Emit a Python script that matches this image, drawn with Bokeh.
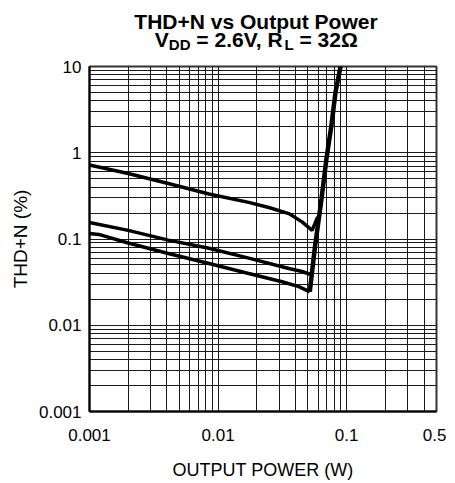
from bokeh.plotting import figure
from bokeh.layouts import column
from bokeh.models import FixedTicker, Range1d
from bokeh.core.properties import value
from bokeh.embed import file_html
from bokeh.resources import INLINE

# ---- data ----
top_x = [0.001, 0.002, 0.0041, 0.0085, 0.0173, 0.0248, 0.0355, 0.045, 0.0539, 0.0595]
top_y = [0.72, 0.575, 0.44, 0.333, 0.266, 0.232, 0.197, 0.158, 0.126, 0.18]

mid_x = [0.001, 0.002, 0.0041, 0.0085, 0.0173, 0.0355, 0.045, 0.0532]
mid_y = [0.155, 0.126, 0.097, 0.078, 0.06, 0.0455, 0.042, 0.0385]

bot_x = [0.001, 0.00118, 0.002, 0.0041, 0.0085, 0.0173, 0.0315, 0.0425, 0.0517]
bot_y = [0.116, 0.113, 0.09, 0.068, 0.052, 0.0398, 0.0319, 0.028, 0.0244]

rise_x = [0.0517, 0.0565, 0.0638, 0.0697, 0.0762, 0.082, 0.0897]
rise_y = [0.0244, 0.0776, 0.295, 0.857, 2.09, 5.08, 10.0]

x_major = [0.001, 0.01, 0.1, 0.5]
x_major_labels = ["0.001", "0.01", "0.1", "0.5"]
x_minor = [k * 10.0 ** e for e in (-3, -2) for k in range(2, 10)] + [0.2, 0.3, 0.4]

y_major = [0.001, 0.01, 0.1, 1, 10]
y_major_labels = ["0.001", "0.01", "0.1", "1", "10"]
y_minor = [k * 10.0 ** e for e in (-3, -2, -1, 0) for k in range(2, 10)]

title_line1 = "THD+N vs Output Power"
# (text, is_subscript, leading-space em, advance em) for Liberation Sans Bold
title_line2 = [("V", False, 0.0, 0.667), ("DD", True, 0.0, 1.444),
               ("= 2.6V, R", False, 0.278, 4.197), ("L", True, 0.0, 0.611),
               ("= 32\u03a9", False, 0.278, 2.744)]

FONT = "Liberation Sans"
FW, FH = 347, 345
BL, BR, BT, BB = 89, 10, 10, 67
TF = 56   # title strip height

# ---- title strip (frame aligned with the chart frame) ----
t = figure(title=None, frame_width=FW, frame_height=TF,
           min_border_left=BL, min_border_right=BR,
           min_border_top=0, min_border_bottom=0,
           x_range=Range1d(0, FW), y_range=Range1d(0, TF),
           x_axis_location=None, y_axis_location=None,
           output_backend="svg", toolbar_location=None)
t.grid.visible = False
t.outline_line_color = None
t.background_fill_color = "white"
t.border_fill_color = "white"

S, s = 21, 15
cx = 166.5
t.text(x=[cx], y=[TF - 20.5], text=[title_line1], text_align="center",
       text_baseline="alphabetic", text_font=value(FONT),
       text_font_size=value(f"{S}px"), text_font_style="bold", text_color="black")
total = sum((s if sub else S) * (lead + w) for _, sub, lead, w in title_line2)
xx = cx - total / 2
for txt, sub, lead, w in title_line2:
    sz = s if sub else S
    xx += sz * lead
    t.text(x=[xx], y=[TF - (43.5 if sub else 38.5)], text=[txt], text_align="left",
           text_baseline="alphabetic", text_font=value(FONT),
           text_font_size=value(f"{sz}px"), text_font_style="bold",
           text_color="black")
    xx += sz * w

# ---- main chart ----
p = figure(x_axis_type="log", y_axis_type="log",
           x_range=(0.001, 0.5), y_range=(0.001, 10),
           frame_width=FW, frame_height=FH,
           min_border_left=BL, min_border_right=BR,
           min_border_top=BT, min_border_bottom=BB,
           output_backend="svg", toolbar_location=None)

p.background_fill_color = "white"
p.border_fill_color = "white"
p.outline_line_color = "#333333"
p.outline_line_width = 2

for ax, maj, lab, mnr in ((p.xaxis[0], x_major, x_major_labels, x_minor),
                          (p.yaxis[0], y_major, y_major_labels, y_minor)):
    ax.ticker = FixedTicker(ticks=maj, minor_ticks=mnr)
    ax.major_label_overrides = {v: l for v, l in zip(maj, lab)}
    ax.major_tick_out = 0
    ax.major_tick_in = 0
    ax.minor_tick_out = 0
    ax.minor_tick_in = 0
    ax.axis_line_color = "black"
    ax.axis_line_width = 2
    ax.major_label_text_font = FONT
    ax.major_label_text_font_size = "17px"
    ax.major_label_text_color = "black"
    ax.axis_label_text_font = FONT
    ax.axis_label_text_font_style = "normal"
    ax.axis_label_text_color = "black"

p.xaxis.axis_label = "OUTPUT POWER (W)"
p.yaxis.axis_label = "THD+N (%)"
p.xaxis.axis_label_text_font_size = "18px"
p.yaxis.axis_label_text_font_size = "19px"
p.xaxis.major_label_standoff = 17
p.xaxis.axis_label_standoff = 16
p.yaxis.major_label_standoff = 8
p.yaxis.axis_label_standoff = 5

for g in (p.xgrid[0], p.ygrid[0]):
    g.grid_line_color = "#1a1a1a"
    g.grid_line_width = 1
    g.minor_grid_line_color = "#1a1a1a"
    g.minor_grid_line_width = 1

p.line(top_x, top_y, line_color="black", line_width=3.5)
p.line(mid_x, mid_y, line_color="black", line_width=3.5)
p.line(bot_x, bot_y, line_color="black", line_width=3.5)
p.line(rise_x, rise_y, line_color="black", line_width=4.5)

layout = column(t, p, spacing=0)
open("out.html", "w").write(file_html(layout, INLINE))
